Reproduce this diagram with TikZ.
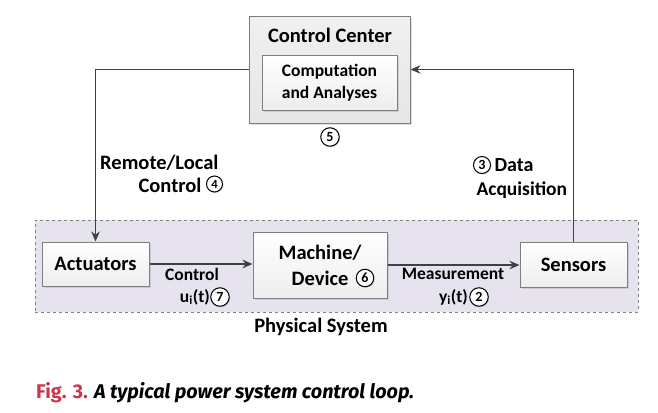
\documentclass[tikz,border=0pt]{standalone}
\usepackage{fontspec}
\setmainfont{Carlito}
\newfontfamily\capfont{Fira Sans}
\usetikzlibrary{shadows,arrows.meta}
\definecolor{boxline}{HTML}{7F7F7F}
\definecolor{arrowc}{HTML}{404040}
\definecolor{physfill}{HTML}{E6E2EE}
\definecolor{ccfill}{HTML}{E6E6E6}
\definecolor{figred}{HTML}{C8364C}
\tikzset{
  every node/.style={font=\bfseries\fontsize{20.5}{24}\selectfont},
  blk/.style={draw=boxline, line width=1pt, top color=white, bottom color=ccfill!70,
    drop shadow={opacity=0.25, shadow xshift=1.5pt, shadow yshift=-1.5pt}, align=center, inner sep=0pt},
  arr/.style={draw=arrowc, line width=1.5pt, -{Stealth[length=10pt,width=8.5pt]}},
  num/.style={circle, draw=black, line width=1pt, fill=white, minimum size=18.5pt, inner sep=0pt,
    font=\bfseries\fontsize{14}{14}\selectfont,
    drop shadow={opacity=0.3, shadow xshift=1pt, shadow yshift=-1pt}},
  lbl/.style={font=\bfseries\fontsize{17.5}{21}\selectfont, inner sep=0pt},
}
\begin{document}
\begin{tikzpicture}[x=1pt,y=-1pt]
\useasboundingbox[fill=white] (0,0) rectangle (658,412);
% physical system
\node[draw=boxline, dashed, line width=0.7pt, fill=physfill, minimum width=603pt, minimum height=92pt, inner sep=0pt] (phys) at (336.5,266) {};
\node (physlbl) at (321,327) {Physical System};
% control center
\node[blk, top color=ccfill!60, bottom color=ccfill, minimum width=161pt, minimum height=106pt] (cc) at (329.5,70) {};
\node (cclbl) at (330,35) {Control Center};
\node[blk, minimum width=135pt, minimum height=54pt, font=\bfseries\fontsize{17.5}{22}\selectfont] (comp) at (329.5,83) {Computation\\and Analyses};
\node[num] (n5) at (330,137) {5};
% boxes
\node[blk, minimum width=107pt, minimum height=44pt] (act) at (95.5,264) {Actuators};
\node[blk, minimum width=134pt, minimum height=66pt] (mach) at (320,265) {};
\node (machl1) at (320,253) {Machine/};
\node[anchor=east] (machl2) at (352,278) {Device};
\node[num, minimum size=17.5pt] (n6) at (365,278) {6};
\node[blk, minimum width=107pt, minimum height=45pt] (sens) at (573.5,264.5) {Sensors};
% arrows
\draw[arr] (act.east) -- (act.east -| mach.west);
\draw[arr] (mach.east |- 0,265) -- (sens.west |- 0,265);
\draw[arr] (cc.west |- 0,69.5) -| (act.north);
\draw[arr] (sens.north) |- (cc.east |- 0,69.5);
% arrow labels
\node[lbl] (ctl) at (192,274) {Control};
\node[lbl, anchor=east] (ui) at (210,297) {u\textsubscript{i}(t)};
\node[num] (n7) at (220,297) {7};
\node[lbl] (meas) at (453,274) {Measurement};
\node[lbl, anchor=east] (yi) at (468,297) {y\textsubscript{i}(t)};
\node[num] (n2) at (479,297) {2};
% remote / local
\node[anchor=east] (rl) at (222,163) {Remote/Local};
\node[anchor=east] (rc) at (205,185) {Control};
\node[num, minimum size=16pt, font=\bfseries\fontsize{12.5}{12}\selectfont] (n4) at (214.5,184) {4};
% data acquisition
\node[num, minimum size=17pt] (n3) at (482,165) {3};
\node[anchor=west, font=\bfseries\fontsize{20}{24}\selectfont] (da) at (491,165) {Data};
\node[anchor=west, font=\bfseries\fontsize{19.5}{24}\selectfont] (acq) at (473,190) {Acquisition};
% caption
\node[anchor=west, inner sep=0pt, font=\capfont\bfseries\fontsize{19.8}{22}\selectfont] (cap) at (36,393)
  {\textcolor{figred}{Fig. 3.} \textit{A typical power system control loop.}};
\end{tikzpicture}
\end{document}
